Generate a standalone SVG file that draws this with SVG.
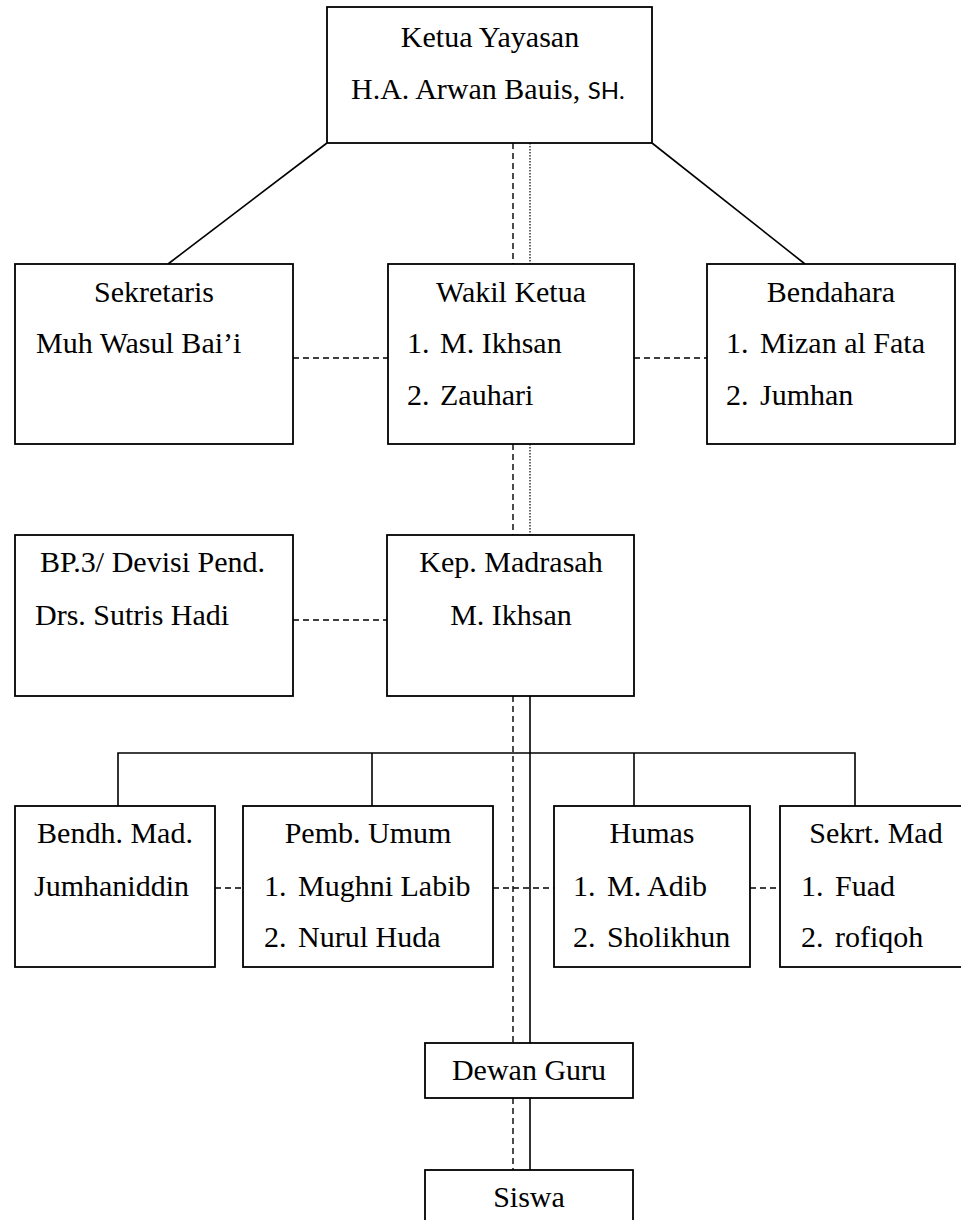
<svg xmlns="http://www.w3.org/2000/svg" width="961" height="1220" viewBox="0 0 961 1220">
<style>
  .box { fill: #ffffff; stroke: #000000; stroke-width: 1.8; }
  .t { font-family: "Liberation Serif", "Times New Roman", serif; font-size: 30px; fill: #000000; }
  .c { text-anchor: middle; }
  .sans { font-family: Lato, "Liberation Sans", sans-serif; font-size: 24px; }
  .solid { stroke: #000000; stroke-width: 1.6; fill: none; }
  .dash { stroke: #000000; stroke-width: 1.4; fill: none; stroke-dasharray: 6 4; }
  .dot { stroke: #000000; stroke-width: 1.2; fill: none; stroke-dasharray: 1.5 1.5; }
</style>
<rect width="961" height="1220" fill="#ffffff"/>
<g id="connectors">
  <line class="solid" x1="327" y1="143" x2="168" y2="264"/>
  <line class="solid" x1="652" y1="143" x2="805" y2="264"/>
  <line class="dash" x1="513" y1="143" x2="513" y2="264"/>
  <line class="dot" x1="530" y1="143" x2="530" y2="264"/>
  <line class="dash" x1="293" y1="358" x2="388" y2="358"/>
  <line class="dash" x1="634" y1="358" x2="707" y2="358"/>
  <line class="dash" x1="513" y1="444" x2="513" y2="535"/>
  <line class="dot" x1="530" y1="444" x2="530" y2="535"/>
  <line class="dash" x1="293" y1="620" x2="387" y2="620"/>
  <line class="dash" x1="513" y1="696" x2="513" y2="1043"/>
  <line class="solid" x1="530" y1="696" x2="530" y2="1043"/>
  <polyline class="solid" points="118,806 118,753 855,753 855,806"/>
  <line class="solid" x1="372" y1="753" x2="372" y2="806"/>
  <line class="solid" x1="634" y1="753" x2="634" y2="806"/>
  <line class="dash" x1="215" y1="888" x2="243" y2="888"/>
  <line class="dash" x1="493" y1="888" x2="554" y2="888"/>
  <line class="dash" x1="750" y1="888" x2="780" y2="888"/>
  <line class="dash" x1="513" y1="1098" x2="513" y2="1170"/>
  <line class="solid" x1="530" y1="1098" x2="530" y2="1170"/>
</g>
<g id="ketua">
  <rect class="box" x="327" y="7" width="325" height="136"/>
  <text class="t c" x="490" y="47">Ketua Yayasan</text>
  <text class="t" x="351" y="99">H.A. Arwan Bauis, <tspan class="sans">SH.</tspan></text>
</g>
<g id="sekretaris">
  <rect class="box" x="15" y="264" width="278" height="180"/>
  <text class="t c" x="154" y="302">Sekretaris</text>
  <text class="t" x="36" y="353">Muh Wasul Bai’i</text>
</g>
<g id="wakil">
  <rect class="box" x="388" y="264" width="246" height="180"/>
  <text class="t c" x="511" y="302">Wakil Ketua</text>
  <text class="t" x="407" y="353">1.</text><text class="t" x="440" y="353">M. Ikhsan</text>
  <text class="t" x="407" y="405">2.</text><text class="t" x="440" y="405">Zauhari</text>
</g>
<g id="bendahara">
  <rect class="box" x="707" y="264" width="248" height="180"/>
  <text class="t c" x="831" y="302">Bendahara</text>
  <text class="t" x="726" y="353">1.</text><text class="t" x="760" y="353">Mizan al Fata</text>
  <text class="t" x="726" y="405">2.</text><text class="t" x="760" y="405">Jumhan</text>
</g>
<g id="bp3">
  <rect class="box" x="15" y="535" width="278" height="161"/>
  <text class="t" x="40" y="572">BP.3/ Devisi Pend.</text>
  <text class="t" x="35" y="625">Drs. Sutris Hadi</text>
</g>
<g id="kepmadrasah">
  <rect class="box" x="387" y="535" width="247" height="161"/>
  <text class="t c" x="511" y="572">Kep. Madrasah</text>
  <text class="t c" x="511" y="625">M. Ikhsan</text>
</g>
<g id="bendhmad">
  <rect class="box" x="15" y="806" width="200" height="161"/>
  <text class="t c" x="115" y="843">Bendh. Mad.</text>
  <text class="t" x="34" y="896">Jumhaniddin</text>
</g>
<g id="pembumum">
  <rect class="box" x="243" y="806" width="250" height="161"/>
  <text class="t c" x="368" y="843">Pemb. Umum</text>
  <text class="t" x="264" y="896">1.</text><text class="t" x="298" y="896">Mughni Labib</text>
  <text class="t" x="264" y="947">2.</text><text class="t" x="298" y="947">Nurul Huda</text>
</g>
<g id="humas">
  <rect class="box" x="554" y="806" width="196" height="161"/>
  <text class="t c" x="652" y="843">Humas</text>
  <text class="t" x="573" y="896">1.</text><text class="t" x="607" y="896">M. Adib</text>
  <text class="t" x="573" y="947">2.</text><text class="t" x="607" y="947">Sholikhun</text>
</g>
<g id="sekrtmad">
  <rect class="box" x="780" y="806" width="200" height="161"/>
  <text class="t c" x="876" y="843">Sekrt. Mad</text>
  <text class="t" x="801" y="896">1.</text><text class="t" x="835" y="896">Fuad</text>
  <text class="t" x="801" y="947">2.</text><text class="t" x="835" y="947">rofiqoh</text>
</g>
<g id="dewanguru">
  <rect class="box" x="425" y="1043" width="208" height="55"/>
  <text class="t c" x="529" y="1080">Dewan Guru</text>
</g>
<g id="siswa">
  <rect class="box" x="425" y="1170" width="208" height="80"/>
  <text class="t c" x="529" y="1207">Siswa</text>
</g>
</svg>
